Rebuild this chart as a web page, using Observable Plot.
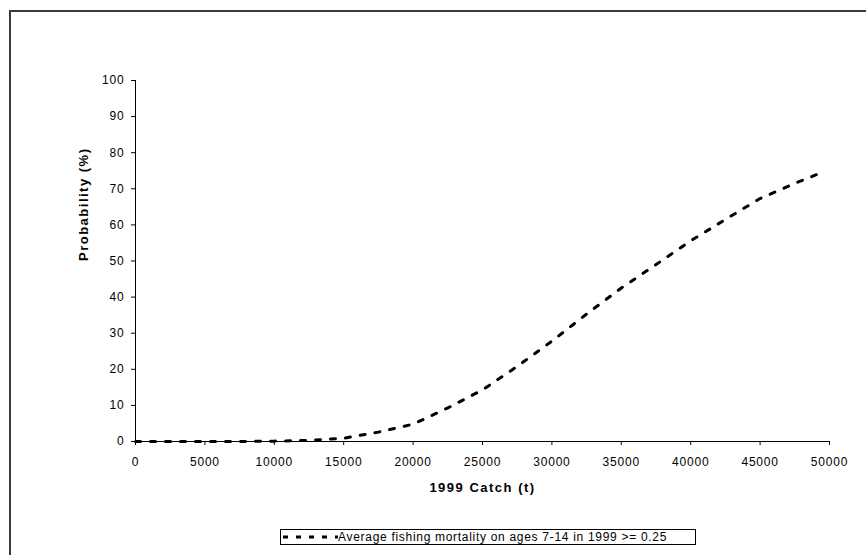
<!DOCTYPE html>
<html>
<head>
<meta charset="utf-8">
<script src="https://cdn.jsdelivr.net/npm/d3@7"></script>
<script src="https://cdn.jsdelivr.net/npm/@observablehq/plot@0.6"></script>
<style>
  html, body { margin: 0; padding: 0; background: #fff; }
  #wrap { position: relative; width: 866px; height: 555px; overflow: hidden; font-family: "Liberation Sans", Arial, sans-serif; }
  #frame { position: absolute; left: 9px; top: 10px; width: 900px; height: 600px; border-left: 2px solid #3a3a3a; border-top: 2px solid #3a3a3a; }
  #chart { position: absolute; left: 0; top: 0; }
  #chart svg text { letter-spacing: 0.8px; }
  #chart svg text.title { letter-spacing: 1.5px; }
  #legend { position: absolute; left: 280px; top: 529px; width: 416px; height: 16px; border: 1px solid #000; box-sizing: border-box; display: flex; align-items: center; font-size: 12px; letter-spacing: 0.7px; white-space: nowrap; background: #fff; }
  #legend svg { margin-left: 2px; margin-right: 0px; }
</style>
</head>
<body>
<div id="wrap">
  <div id="frame"></div>
  <div id="chart"></div>
  <div id="legend"></div>
</div>
<script>
// Data
const catchX = [0, 2500, 5000, 7500, 10000, 12500, 15000, 17500, 20000, 22500, 25000, 27500, 30000, 32500, 35000, 37500, 40000, 42500, 45000, 47500, 49500];
const probY  = [0, 0, 0, 0, 0.1, 0.3, 0.9, 2.6, 4.8, 9.3, 14.3, 20.8, 27.8, 35.3, 42.5, 49.0, 55.6, 61.5, 67.3, 71.5, 74.6];
const xTicks = [0, 5000, 10000, 15000, 20000, 25000, 30000, 35000, 40000, 45000, 50000];
const yTicks = [0, 10, 20, 30, 40, 50, 60, 70, 80, 90, 100];
const seriesName = "Average fishing mortality on ages 7-14 in 1999 >= 0.25";
const xTitle = "1999 Catch (t)";
const yTitle = "Probability (%)";

const data = catchX.map((c, i) => ({c, p: probY[i]}));

const chart = Plot.plot({
  width: 866,
  height: 500,
  marginLeft: 135,
  marginRight: 37,
  marginTop: 80,
  marginBottom: 59,
  style: {fontFamily: "Liberation Sans, Arial, sans-serif", fontSize: "12px", color: "#000", background: "transparent"},
  x: {domain: [0, 50000]},
  y: {domain: [0, 100]},
  marks: [
    Plot.axisX({ticks: xTicks, tickSize: 4, tickPadding: 12, tickFormat: d3.format("d"), label: null, fontSize: 12}),
    Plot.axisY({ticks: yTicks, tickSize: 4, tickPadding: 7, tickFormat: d3.format("d"), label: null, fontSize: 12}),
    Plot.ruleY([0], {stroke: "#000"}),
    Plot.ruleX([0], {stroke: "#000"}),
    Plot.line(data, {x: "c", y: "p", stroke: "#000", strokeWidth: 3, strokeDasharray: "5,10"}),
    Plot.text([xTitle], {frameAnchor: "bottom", dy: 46, lineAnchor: "middle", fontWeight: "bold", fontSize: 13}),
    Plot.text([yTitle], {frameAnchor: "left", dx: -52, rotate: -90, lineAnchor: "middle", fontWeight: "bold", fontSize: 13})
  ]
});
document.getElementById("chart").appendChild(chart);
chart.querySelectorAll("text").forEach(t => {
  if (t.textContent === xTitle || t.textContent === yTitle) t.setAttribute("class", "title");
});

const legend = document.getElementById("legend");
legend.innerHTML = `<svg width="55" height="10"><line x1="0" y1="5" x2="55" y2="5" stroke="#000" stroke-width="3" stroke-dasharray="5,8"/></svg><span>${seriesName.replace(/>/g, "&gt;")}</span>`;
</script>
</body>
</html>
